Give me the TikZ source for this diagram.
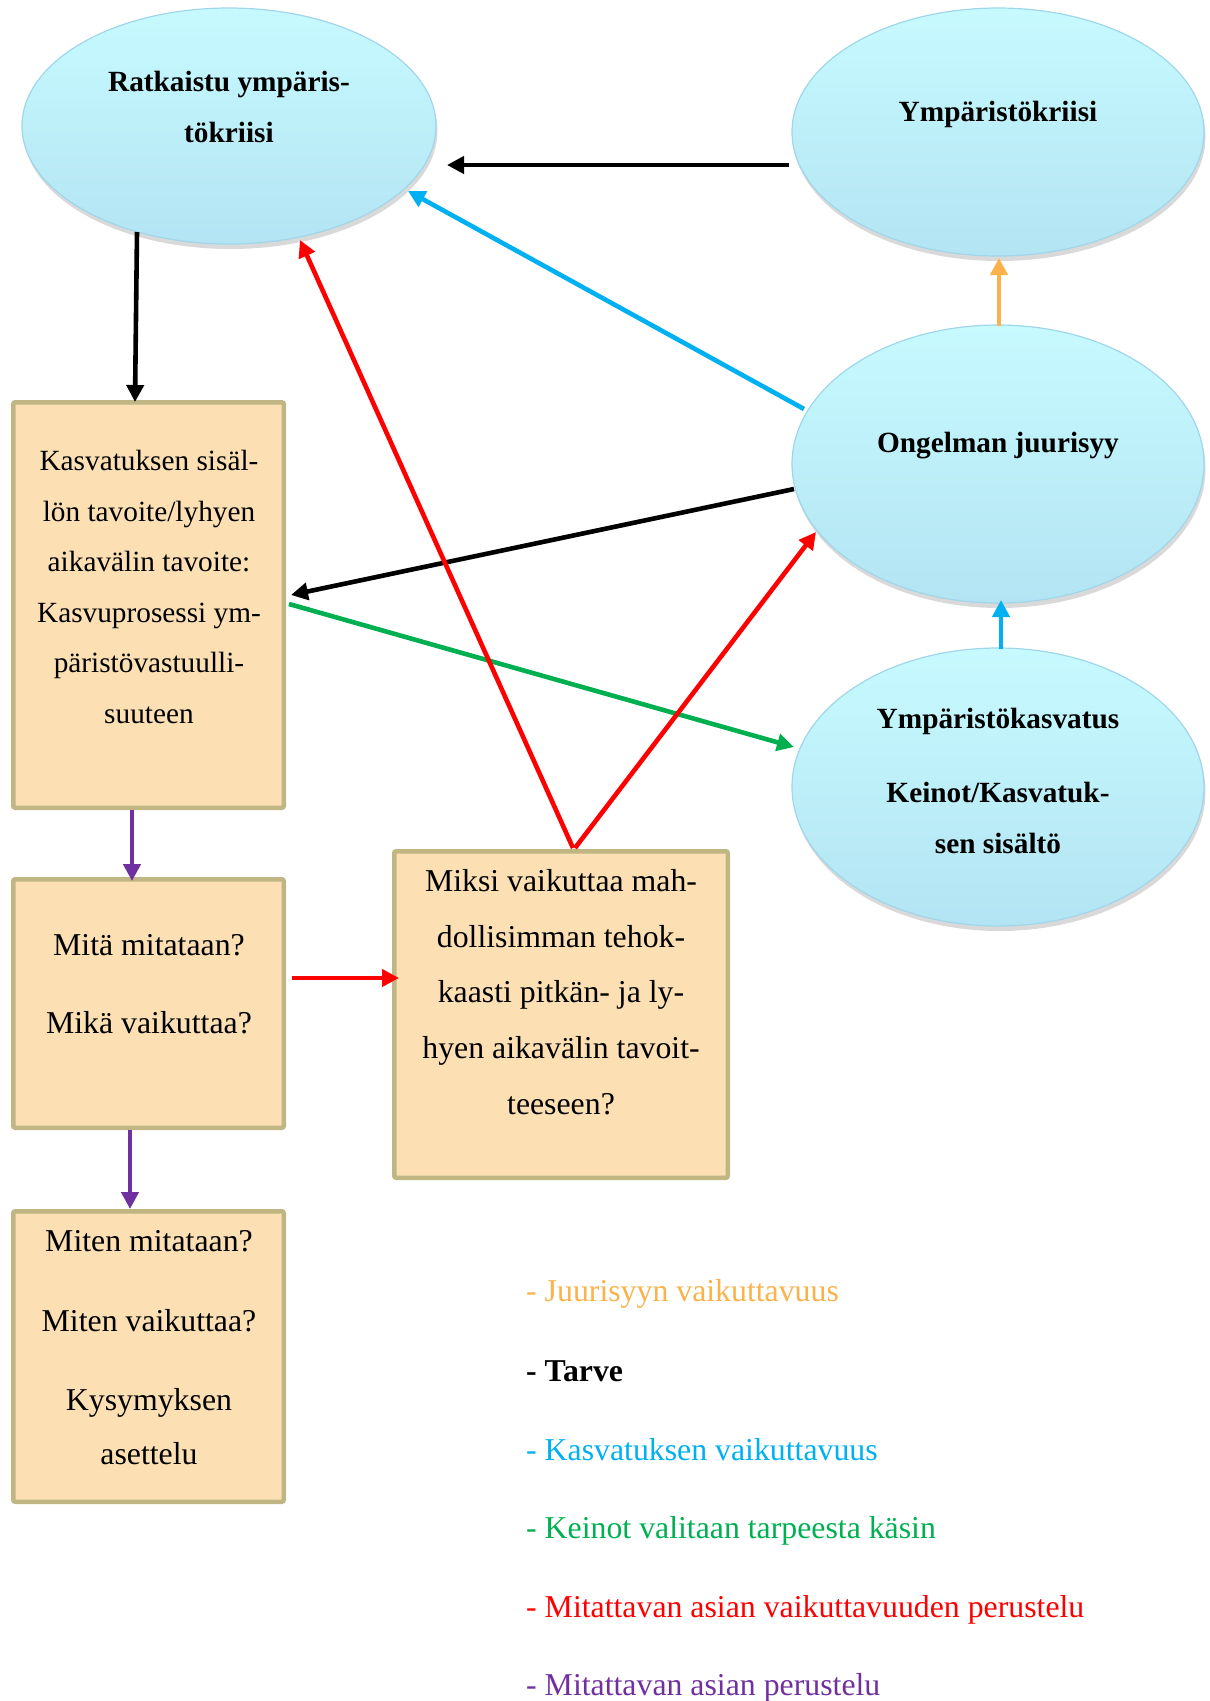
\documentclass[tikz,border=0pt]{standalone}
\usepackage{fontspec}
\setmainfont{Liberation Serif}
\usetikzlibrary{shapes.geometric,shadows,arrows.meta}
\definecolor{ellTop}{RGB}{199,250,255}
\definecolor{ellBot}{RGB}{179,228,243}
\definecolor{ellLine}{RGB}{160,214,234}
\definecolor{boxFill}{RGB}{252,224,180}
\definecolor{boxLine}{RGB}{191,182,131}
\definecolor{cOrange}{RGB}{250,178,75}
\definecolor{cBlue}{RGB}{0,176,240}
\definecolor{cGreen}{RGB}{0,176,80}
\definecolor{cRed}{RGB}{255,0,0}
\definecolor{cPurple}{RGB}{112,48,160}
\begin{document}
\begin{tikzpicture}[x=1pt,y=-1pt,
  ell/.style={ellipse, inner sep=0pt, top color=ellTop, bottom color=ellBot,
    draw=ellLine, line width=1.2pt,
    drop shadow={shadow xshift=1.5pt, shadow yshift=-5pt, opacity=0.3}},
  qbox/.style={rectangle, inner sep=0pt, fill=boxFill, draw=boxLine,
    line width=4.5pt, rounded corners=2pt, minimum width=270.5pt},
  etext/.style={align=center, inner sep=0pt, font=\bfseries\fontsize{29.3pt}{50.5pt}\selectfont},
  stext/.style={align=center, inner sep=0pt, font=\fontsize{29.3pt}{50.5pt}\selectfont},
  btext/.style={align=center, inner sep=0pt, font=\fontsize{31.8pt}{54pt}\selectfont},
  ltext/.style={anchor=west, inner sep=0pt, font=\fontsize{31.8pt}{40pt}\selectfont},
  arr/.style={line width=4.6pt, -{Triangle[length=17pt,width=17pt]}}
]
\useasboundingbox (0,0) rectangle (1210,1701);

% ellipses
\node[ell, minimum width=414pt, minimum height=236pt] (A) at (229,126) {};
\node[ell, minimum width=412pt, minimum height=248pt] (B) at (998,132) {};
\node[ell, minimum width=412pt, minimum height=278pt] (C) at (998,464) {};
\node[ell, minimum width=412pt, minimum height=278pt] (D) at (998,787) {};

\node[etext] (At) at (229,107) {Ratkaistu ympäris-\\tökriisi};
\node[etext] (Bt) at (998,114) {Ympäristökriisi};
\node[etext] (Ct) at (998,446) {Ongelman juurisyy};
\node[etext] (Dt) at (998,781) {Ympäristökasvatus\\[23.5pt]Keinot/Kasvatuk-\\sen sisältö};

% boxes
\node[qbox, minimum height=405.5pt] (K1) at (148.5,605) {};
\node[qbox, minimum height=248.5pt] (K2) at (148.5,1003.5) {};
\node[qbox, minimum height=290.5pt] (K3) at (148.5,1356.5) {};
\node[qbox, minimum width=333.5pt, minimum height=326.5pt] (K4) at (561,1014.5) {};

\node[stext] (K1t) at (149,587) {Kasvatuksen sisäl-\\lön tavoite/lyhyen\\aikavälin tavoite:\\Kasvuprosessi ym-\\päristövastuulli-\\suuteen};
\node[btext] (K2t) at (149,984) {Mitä mitataan?\\[24pt]Mikä vaikuttaa?};
\node[btext] (K3t) at (149,1348) {Miten mitataan?\\[26pt]Miten vaikuttaa?\\[25pt]Kysymyksen\\asettelu};
\node[btext, font=\fontsize{31.8pt}{55.7pt}\selectfont] (K4t) at (561,992) {Miksi vaikuttaa mah-\\dollisimman tehok-\\kaasti pitkän- ja ly-\\hyen aikavälin tavoit-\\teeseen?};

% connectors
\draw[arr, black] ([shift={(-209,33)}]B.center) -- ([shift={(218,39)}]A.center);
\draw[arr, cBlue] ([shift={(-194,-55)}]C.center) -- ([shift={(179,65)}]A.center);
\draw[arr, black] ([shift={(-92,106)}]A.center) -- ([shift={(-13.5,-203)}]K1.center);
\draw[arr, cOrange] ([shift={(1,-138)}]C.center) -- ([shift={(1,126)}]B.center);
\draw[arr, cBlue] ([shift={(3,-138)}]D.center) -- ([shift={(3,136)}]C.center);
\draw[arr, black] ([shift={(-204,25)}]C.center) -- ([shift={(142.5,-10)}]K1.center);
\draw[arr, cGreen] ([shift={(140.5,-1)}]K1.center) -- ([shift={(-204,-40)}]D.center);
\draw[arr, cRed] ([shift={(12,-166.5)}]K4.center) -- ([shift={(71,114)}]A.center);
\draw[arr, cRed] ([shift={(14,-166.5)}]K4.center) -- ([shift={(-182,68)}]C.center);
\draw[arr, cPurple] ([shift={(-16.5,205)}]K1.center) -- ([shift={(-16.5,-122.5)}]K2.center);
\draw[arr, cPurple] ([shift={(-18.5,126.5)}]K2.center) -- ([shift={(-18.5,-147.5)}]K3.center);
\draw[arr, cRed] ([shift={(143.5,-25.5)}]K2.center) -- ([shift={(-162,-36.5)}]K4.center);

% legend
\node[ltext, text=cOrange] (L1) at (526,1293.5) {- Juurisyyn vaikuttavuus};
\node[ltext, text=black, font=\bfseries\fontsize{31.8pt}{40pt}\selectfont] (L2) at (526,1371) {- Tarve};
\node[ltext, text=cBlue] (L3) at (526,1450) {- Kasvatuksen vaikuttavuus};
\node[ltext, text=cGreen] (L4) at (526,1531) {- Keinot valitaan tarpeesta käsin};
\node[ltext, text=cRed] (L5) at (526,1610) {- Mitattavan asian vaikuttavuuden perustelu};
\node[ltext, text=cPurple] (L6) at (526,1688) {- Mitattavan asian perustelu};
\end{tikzpicture}
\end{document}
